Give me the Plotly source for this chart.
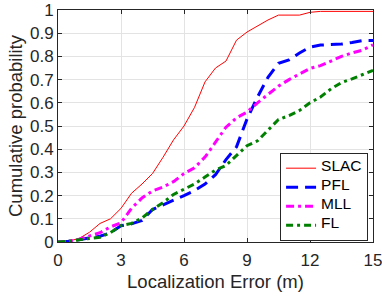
import plotly.graph_objects as go

error_m = [0, 0.5, 1, 1.5, 2, 2.5, 3, 3.5, 4, 4.5, 5, 5.5, 6, 6.5, 7, 7.5,
           8, 8.5, 9, 9.5, 10, 10.5, 11, 11.5, 12, 12.5, 13, 13.5, 14, 14.5, 15]

slac = [0, 0.004, 0.015, 0.042, 0.08, 0.1, 0.145, 0.21, 0.25, 0.295, 0.365,
        0.44, 0.5, 0.58, 0.69, 0.75, 0.78, 0.87, 0.905, 0.93, 0.957, 0.978,
        0.978, 0.978, 0.99, 0.994, 0.994, 0.994, 0.994, 0.994, 0.994]
pfl = [0, 0.003, 0.01, 0.018, 0.025, 0.04, 0.07, 0.078, 0.093, 0.14, 0.16,
       0.178, 0.2, 0.222, 0.25, 0.29, 0.355, 0.41, 0.53, 0.625, 0.71, 0.77,
       0.785, 0.815, 0.84, 0.849, 0.85, 0.853, 0.86, 0.868, 0.868]
mll = [0, 0.003, 0.012, 0.025, 0.04, 0.065, 0.083, 0.145, 0.19, 0.22, 0.237,
       0.26, 0.295, 0.32, 0.366, 0.43, 0.495, 0.535, 0.56, 0.6, 0.636, 0.672,
       0.7, 0.725, 0.748, 0.76, 0.78, 0.8, 0.815, 0.827, 0.85]
fl = [0, 0.003, 0.01, 0.015, 0.02, 0.04, 0.071, 0.08, 0.103, 0.14, 0.17,
      0.205, 0.228, 0.25, 0.28, 0.31, 0.33, 0.374, 0.415, 0.436, 0.48, 0.528,
      0.545, 0.567, 0.6, 0.625, 0.66, 0.687, 0.703, 0.72, 0.74]

series_names = ["SLAC", "PFL", "MLL", "FL"]
x_ticks = [0, 3, 6, 9, 12, 15]
y_ticks = [0, 0.1, 0.2, 0.3, 0.4, 0.5, 0.6, 0.7, 0.8, 0.9, 1]
y_tick_labels = ["0", "0.1", "0.2", "0.3", "0.4", "0.5", "0.6", "0.7", "0.8", "0.9", "1"]

FONT = "Liberation Sans, Arial, Helvetica, sans-serif"
AX = "#262626"


def leg(name):
    return '<span style="font-size:15.5px">' + name + '</span>'


styles = [dict(color="#ff0000", width=1),
          dict(color="#0000ff", width=3, dash="12px,7px"),
          dict(color="#ff00ff", width=3, dash="8px,4px,3px,4px"),
          dict(color="#008000", width=3, dash="7px,4px,3px,4px")]

fig = go.Figure()
for name, ys, st in zip(series_names, [slac, pfl, mll, fl], styles):
    fig.add_trace(go.Scatter(x=error_m, y=ys, mode="lines", name=leg(name), line=st))

axis_common = dict(showline=True, linecolor=AX, linewidth=1, mirror="ticks",
                   ticks="inside", ticklen=4, tickcolor=AX, tickwidth=1,
                   showgrid=True, gridcolor="#e3e3e3", gridwidth=1,
                   zeroline=False, automargin=False, ticklabeloverflow="allow",
                   tickfont=dict(family=FONT, size=17, color=AX))

fig.update_xaxes(range=[0, 15], tickvals=x_ticks, ticktext=[str(v) for v in x_ticks],
                 ticklabelstandoff=3,
                 title=dict(text="Localization Error (m)",
                            font=dict(family=FONT, size=18.5, color=AX), standoff=5),
                 **axis_common)
fig.update_yaxes(range=[0, 1], tickvals=y_ticks, ticktext=y_tick_labels,
                 title=dict(text="Cumulative probability",
                            font=dict(family=FONT, size=18.5, color=AX), standoff=2),
                 **axis_common)

fig.update_layout(
    width=382, height=296,
    margin=dict(l=58, r=9, t=10, b=54, pad=0),
    paper_bgcolor="white", plot_bgcolor="white",
    showlegend=True,
    legend=dict(x=0.705, y=0.385, xanchor="left", yanchor="top",
                bgcolor="white", bordercolor=AX, borderwidth=1,
                font=dict(family=FONT, size=8, color="#000000"),
                itemwidth=30, tracegroupgap=0),
)

fig.write_html("out.html", config={"displayModeBar": False},
               post_script="document.body.style.margin='0';")
